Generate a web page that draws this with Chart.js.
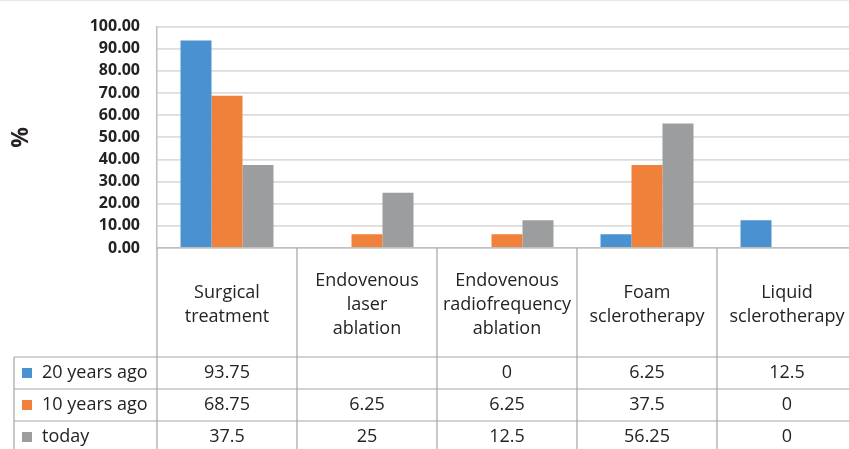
<!DOCTYPE html>
<html>
<head>
<meta charset="utf-8">
<script src="https://cdn.jsdelivr.net/npm/chart.js@4"></script>
<style>
  html, body { margin: 0; padding: 0; background: #fff; overflow: hidden; }
  canvas { display: block; }
</style>
</head>
<body>
<canvas id="chart" width="870" height="449"></canvas>
<script>
const categories = [
  ["Surgical", "treatment"],
  ["Endovenous", "laser", "ablation"],
  ["Endovenous", "radiofrequency", "ablation"],
  ["Foam", "sclerotherapy"],
  ["Liquid", "sclerotherapy"]
];
const seriesNames = ["20 years ago", "10 years ago", "today"];
const twentyYearsAgo = [93.75, null, 0, 6.25, 12.5];
const tenYearsAgo = [68.75, 6.25, 6.25, 37.5, 0];
const today = [37.5, 25, 12.5, 56.25, 0];
const yMax = 100;
const yStep = 10;

const colors = ["#4a91d2", "#f0813a", "#9b9d9e"];
const textColor = "#262223";
const tableLine = "#a6a6a6";

// data table drawn under the plot, columns follow the x scale
const dataTable = {
  id: "dataTable",
  afterDraw(chart) {
    const { ctx, chartArea } = chart;
    const x = chart.scales.x;
    const colWidth = (x.right - x.left) / categories.length;
    const headerBottom = chartArea.bottom + 109;
    const rowHeight = 32;
    const tableLeft = 14;

    ctx.save();
    // faint frame line at the very top
    ctx.strokeStyle = "#e8e8e8";
    ctx.lineWidth = 1;
    ctx.beginPath();
    ctx.moveTo(0, 0.5);
    ctx.lineTo(chart.width, 0.5);
    ctx.stroke();

    ctx.strokeStyle = tableLine;
    ctx.lineWidth = 1.2;
    ctx.beginPath();
    for (let r = 0; r < seriesNames.length; r++) {
      const y = headerBottom + r * rowHeight;
      ctx.moveTo(tableLeft, y);
      ctx.lineTo(x.right, y);
    }
    ctx.moveTo(tableLeft, headerBottom);
    ctx.lineTo(tableLeft, chart.height);
    for (let i = 0; i <= categories.length; i++) {
      const xPos = x.getPixelForValue(i) - colWidth / 2;
      ctx.moveTo(xPos, chartArea.bottom);
      ctx.lineTo(xPos, chart.height);
    }
    ctx.stroke();

    ctx.fillStyle = textColor;
    ctx.font = "18px 'Open Sans'";
    ctx.textAlign = "center";
    ctx.textBaseline = "middle";
    const mid = (chartArea.bottom + headerBottom) / 2 + 2;
    chart.data.labels.forEach((lines, i) => {
      const cx = x.getPixelForValue(i);
      lines.forEach((line, j) => {
        ctx.fillText(line, cx, mid + (j - (lines.length - 1) / 2) * 24);
      });
    });

    chart.data.datasets.forEach((ds, r) => {
      const cy = headerBottom + r * rowHeight + rowHeight / 2;
      ctx.fillStyle = ds.backgroundColor;
      ctx.fillRect(22, cy - 5, 10, 10);
      ctx.fillStyle = textColor;
      ctx.textAlign = "left";
      ctx.fillText(ds.label, 42, cy);
      ctx.textAlign = "center";
      ds.data.forEach((v, i) => {
        if (v !== null) ctx.fillText(String(v), x.getPixelForValue(i), cy);
      });
    });
    ctx.restore();
  }
};

new Chart(document.getElementById("chart"), {
  type: "bar",
  data: {
    labels: categories,
    datasets: [
      { label: seriesNames[0], data: twentyYearsAgo, backgroundColor: colors[0] },
      { label: seriesNames[1], data: tenYearsAgo, backgroundColor: colors[1] },
      { label: seriesNames[2], data: today, backgroundColor: colors[2] }
    ]
  },
  options: {
    responsive: false,
    animation: false,
    devicePixelRatio: 1,
    categoryPercentage: 0.664,
    barPercentage: 1,
    layout: { padding: { left: 0, right: 13, top: 22, bottom: 201 } },
    plugins: {
      legend: { display: false },
      tooltip: { enabled: false }
    },
    scales: {
      x: {
        offset: true,
        grid: { display: false, drawTicks: false },
        ticks: { display: false },
        border: { display: true, color: "#bfbfbf", width: 1.5 },
        afterFit: (scale) => { scale.height = 0; }
      },
      y: {
        min: 0,
        max: yMax,
        ticks: {
          stepSize: yStep,
          padding: 17,
          color: textColor,
          font: { family: "'Open Sans'", size: 16, weight: "bold" },
          callback: (v) => v.toFixed(2)
        },
        grid: { color: "#dcdcdc", lineWidth: 1.8, drawTicks: false },
        border: { display: true, color: "#bfbfbf", width: 1.5 },
        title: {
          display: true,
          text: "%",
          color: textColor,
          font: { family: "'Open Sans'", size: 23, weight: "bold" },
          padding: { top: 8, bottom: 0 }
        },
        afterFit: (scale) => { scale.width = 157; }
      }
    }
  },
  plugins: [dataTable]
});
</script>
</body>
</html>
